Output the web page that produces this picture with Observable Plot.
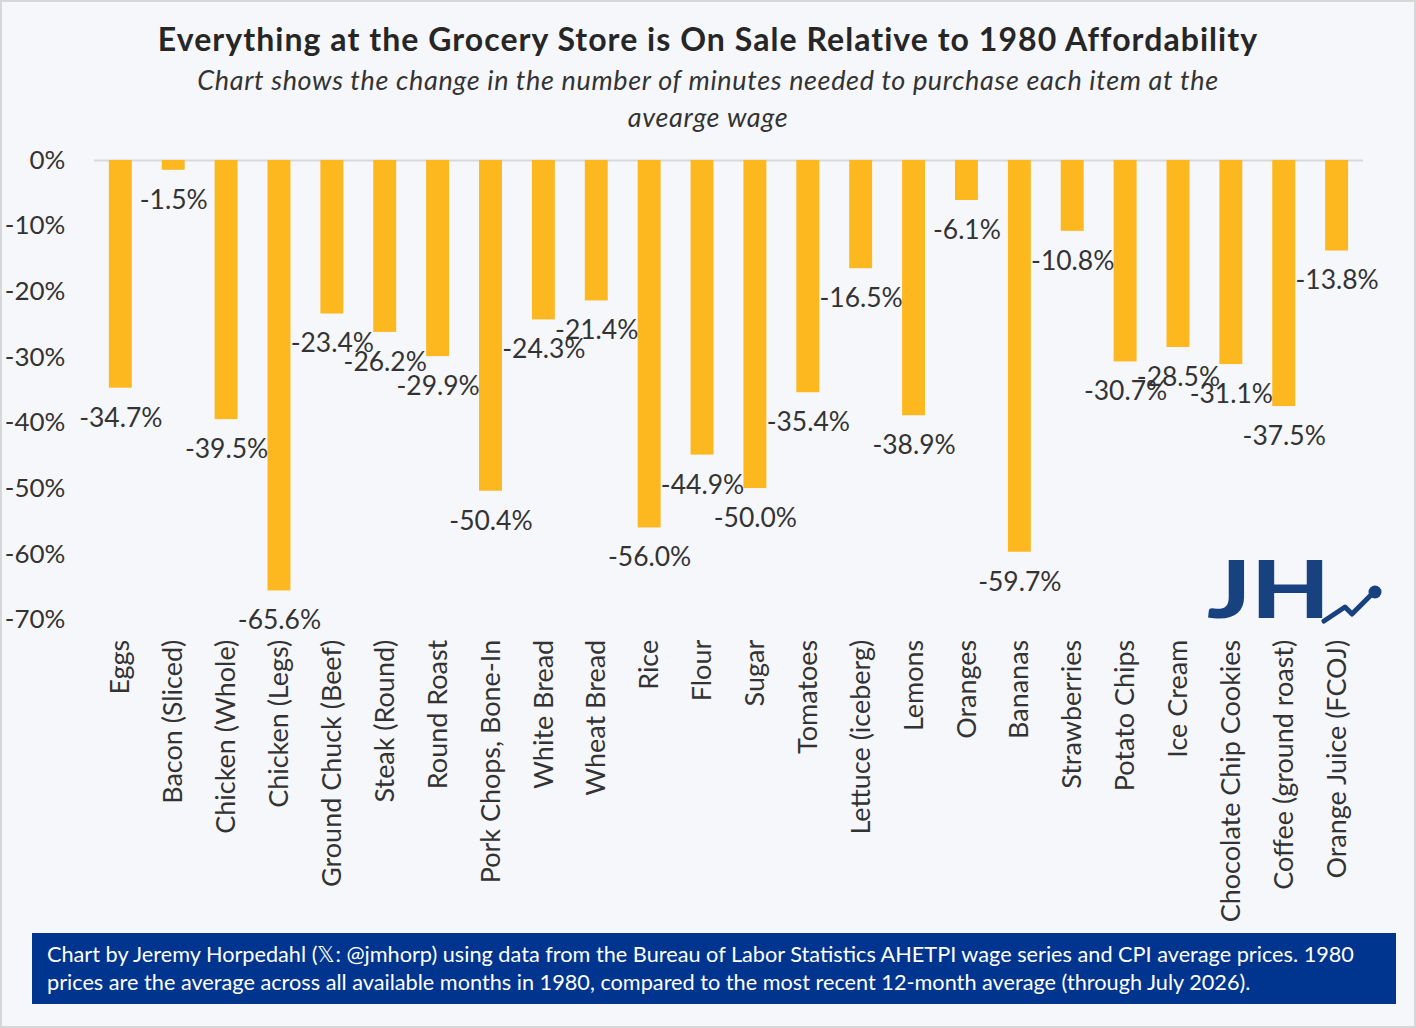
<!DOCTYPE html>
<html>
<head>
<meta charset="utf-8">
<script src="https://cdn.jsdelivr.net/npm/d3@7"></script>
<script src="https://cdn.jsdelivr.net/npm/@observablehq/plot@0.6"></script>
<style>
  html, body { margin: 0; padding: 0; background: #fff; }
  #frame {
    position: relative; width: 1416px; height: 1028px; box-sizing: border-box;
    background: #f6f7fb; border: 2px solid #d6d7d9; overflow: hidden;
    font-family: Lato, "Noto Sans", sans-serif; color: #333;
  }
  #title {
    position: absolute; left: 0; width: 100%; top: 18px; text-align: center;
    font-size: 32px; font-weight: 700; color: #262626; line-height: 38px; letter-spacing: 1.05px;
  }
  #subtitle {
    position: absolute; left: 0; width: 100%; top: 59px; text-align: center;
    font-size: 27px; font-style: italic; color: #333; line-height: 37px; letter-spacing: 0.65px;
  }
  #chart { position: absolute; left: -2px; top: 134px; }
  #footer {
    position: absolute; left: 30px; top: 931px; width: 1364px; height: 71px;
    box-sizing: border-box; background: #00358f; color: #fff;
    font-size: 21.7px; line-height: 28px; padding: 7px 0 0 15px; white-space: nowrap;
  }
  #logo { position: absolute; left: 1198px; top: 548px; overflow: visible; }
</style>
</head>
<body>
<div id="frame">
  <div id="title">Everything at the Grocery Store is On Sale Relative to 1980 Affordability</div>
  <div id="subtitle">Chart shows the change in the number of minutes needed to purchase each item at the<br>avearge wage</div>
  <div id="chart"></div>
  <svg id="logo" width="200" height="82" viewBox="0 0 200 82">
    <text x="7" y="68" font-family="Lato, 'DejaVu Sans', sans-serif" font-weight="900" font-size="80" fill="#17427f" textLength="123" lengthAdjust="spacingAndGlyphs">JH</text>
    <polyline points="124,71 145,57 152,64 174,42" fill="none" stroke="#17427f" stroke-width="5" stroke-linecap="round" stroke-linejoin="round"/>
    <circle cx="175" cy="42" r="6.5" fill="#17427f"/>
  </svg>
  <div id="footer">Chart by Jeremy Horpedahl (𝕏: @jmhorp) using data from the Bureau of Labor Statistics AHETPI wage series and CPI average prices. 1980<br>prices are the average across all available months in 1980, compared to the most recent 12-month average (through July 2026).</div>
</div>
<script>
const items = ["Eggs", "Bacon (Sliced)", "Chicken (Whole)", "Chicken (Legs)", "Ground Chuck (Beef)", "Steak (Round)", "Round Roast", "Pork Chops, Bone-In", "White Bread", "Wheat Bread", "Rice", "Flour", "Sugar", "Tomatoes", "Lettuce (iceberg)", "Lemons", "Oranges", "Bananas", "Strawberries", "Potato Chips", "Ice Cream", "Chocolate Chip Cookies", "Coffee (ground roast)", "Orange Juice (FCOJ)"];
const changes = [-34.7, -1.5, -39.5, -65.6, -23.4, -26.2, -29.9, -50.4, -24.3, -21.4, -56.0, -44.9, -50.0, -35.4, -16.5, -38.9, -6.1, -59.7, -10.8, -30.7, -28.5, -31.1, -37.5, -13.8];
const yTicks = [0, -10, -20, -30, -40, -50, -60, -70];

const data = items.map((item, i) => ({item, value: changes[i]}));
const fmt = v => v.toFixed(1) + "%";

const chart = Plot.plot({
  width: 1416,
  height: 790,
  marginTop: 24,
  marginBottom: 306,
  marginLeft: 94,
  marginRight: 51,
  style: {background: "transparent", fontFamily: "Lato, 'Noto Sans', sans-serif", color: "#333"},
  x: {domain: items, padding: 0, round: false, label: null},
  y: {domain: [-70, 0], label: null},
  marks: [
    Plot.ruleY([0], {stroke: "#d9d9d9", strokeWidth: 2}),
    Plot.barY(data, {x: "item", y: "value", fill: "#fdb71f", insetLeft: 15, insetRight: 15}),
    Plot.text(data, {x: "item", y: "value", text: d => fmt(d.value), dy: 30, fontSize: 26.5, fill: "#333"}),
    Plot.axisY({ticks: yTicks, tickFormat: d => d + "%", tickSize: 0, tickPadding: 29, fontSize: 26, fill: "#333", label: null}),
    Plot.axisX({tickRotate: -90, tickSize: 0, tickPadding: 20, fontSize: 27, fill: "#333", label: null})
  ]
});
document.getElementById("chart").appendChild(chart);
</script>
</body>
</html>
